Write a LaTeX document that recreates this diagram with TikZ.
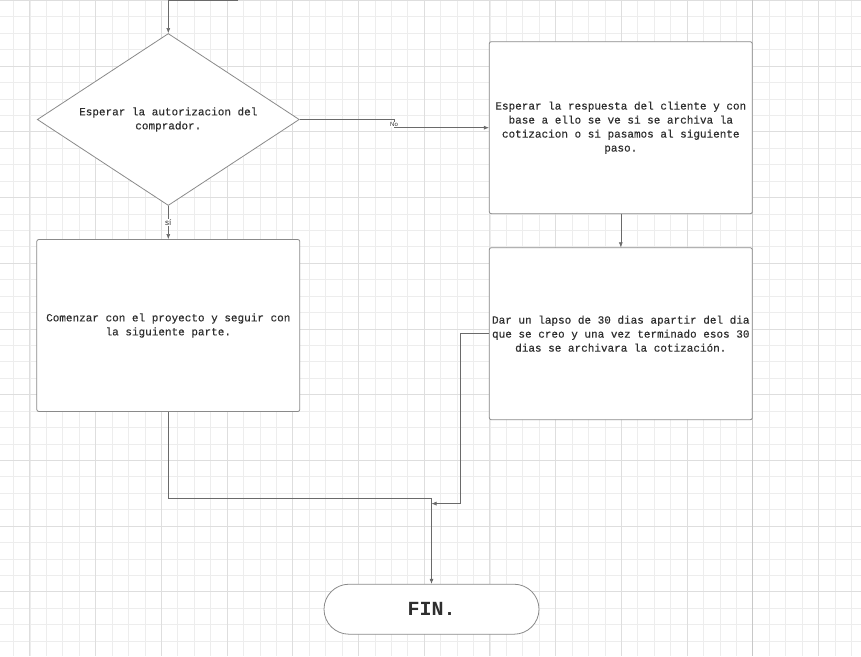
\documentclass[tikz,border=0pt]{standalone}
\usepackage{fontspec}
\setmonofont{Liberation Mono}
\newfontfamily\boxfont{Liberation Mono}[FakeBold=0.35]
\newfontfamily\lblfont{Liberation Sans}
\usetikzlibrary{shapes.geometric,arrows.meta}
\definecolor{gridminor}{HTML}{EDEDED}
\definecolor{gridmajor}{HTML}{DEDEDE}
\definecolor{pageline}{HTML}{C8C8C8}
\definecolor{shapeborder}{HTML}{8A8A8A}
\definecolor{connector}{HTML}{6A6A6A}
\definecolor{txt}{HTML}{2E2E2E}
\tikzset{
  boxnode/.style={draw=shapeborder, fill=white, line width=0.8pt, rounded corners=2pt,
    minimum width=263pt, minimum height=172pt, inner sep=0pt, align=center,
    text=txt, font=\boxfont\fontsize{11}{14}\selectfont},
  decisionnode/.style={draw=shapeborder, fill=white, line width=0.8pt, shape=diamond,
    aspect=1.52, minimum width=262pt, minimum height=172pt, inner sep=0pt, align=center,
    text=txt, font=\boxfont\fontsize{11}{14}\selectfont},
  terminalnode/.style={draw=shapeborder, fill=white, line width=0.8pt, rounded corners=25pt,
    minimum width=215pt, minimum height=50pt, inner sep=0pt,
    text=txt, font=\ttfamily\bfseries\fontsize{20}{24}\selectfont},
  conn/.style={draw=connector, line width=0.6pt, -{Latex[length=5pt,width=4pt]}},
  plainconn/.style={draw=connector, line width=0.6pt},
  edgelabel/.style={fill=white, inner sep=1pt, text=txt, font=\lblfont\fontsize{8}{9}\selectfont},
}
\begin{document}
\begin{tikzpicture}[x=1pt,y=-1pt]
\useasboundingbox (0,0) rectangle (861,656);
\fill[white] (0,0) rectangle (861,656);
% grid
\foreach \i in {0,...,53} {
  \draw[gridminor, line width=0.6pt] ({-3.06+16.43*\i},0) -- ({-3.06+16.43*\i},656);
}
\foreach \i in {0,...,40} {
  \draw[gridminor, line width=0.6pt] (0,{0.3+16.43*\i}) -- (861,{0.3+16.43*\i});
}
\foreach \i in {0,...,13} {
  \draw[gridmajor, line width=0.7pt] ({29.8+65.72*\i},0) -- ({29.8+65.72*\i},656);
}
\foreach \i in {0,...,10} {
  \draw[gridmajor, line width=0.7pt] (0,{0.3+65.72*\i}) -- (861,{0.3+65.72*\i});
}
\draw[pageline, line width=1.5pt] (752.3,0) -- (752.3,656);

% nodes
\node[decisionnode] (dec) at (168.3,119.5) {Esperar la autorizacion del\\comprador.};
\node[boxnode] (lb) at (168.3,325.5) {Comenzar con el proyecto y seguir con\\la siguiente parte.};
\node[boxnode] (rt) at (620.8,127.7) {Esperar la respuesta del cliente y con\\base a ello se ve si se archiva la\\cotizacion o si pasamos al siguiente\\paso.};
\node[boxnode] (rb) at (620.8,333.7) {Dar un lapso de 30 dias apartir del dia\\que se creo y una vez terminado esos 30\\dias se archivara la cotización.};
\node[terminalnode] (fin) at (431.5,609.2) {FIN.};

\coordinate (start) at (238,0.6);
\coordinate (j1) at (431.5,498.3);
\coordinate (j2) at (431.5,503.6);

% connectors
\draw[conn] (start) -| (dec.north);
\draw[conn] (dec.south) -- node[edgelabel] {sí} (lb.north);
\draw[conn] (dec.east) -- ++(95,0) |- (rt.west);
\node[edgelabel, font=\lblfont\fontsize{6}{7}\selectfont, inner sep=0.5pt] (nolbl) at (394,124.5) {No};
\draw[conn] (rt.south) -- (rb.north);
\draw[plainconn] (lb.south) |- (j1);
\draw[conn] (j1) -- (fin.north);
\draw[conn] (rb.west) -- ++(-29,0) |- (j2);
\end{tikzpicture}
\end{document}
